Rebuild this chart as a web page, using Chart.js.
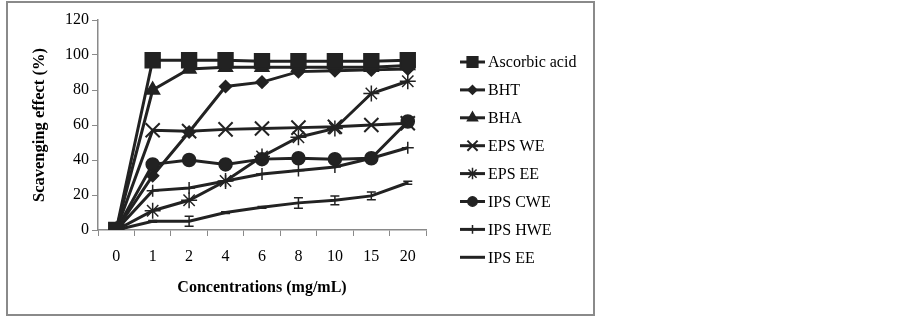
<!DOCTYPE html>
<html>
<head>
<meta charset="utf-8">
<script src="https://cdn.jsdelivr.net/npm/chart.js@4"></script>
<style>
  html, body { margin: 0; padding: 0; background: #fff; }
  #wrap { width: 902px; height: 322px; position: relative; }
</style>
</head>
<body>
<div id="wrap"><canvas id="chart"></canvas></div>
<script>
const concentrations = ['0', '1', '2', '4', '6', '8', '10', '15', '20'];
const yTicks = [0, 20, 40, 60, 80, 100, 120];

const ascorbicAcid = [0, 97, 97, 97, 96.5, 96.5, 96.5, 96.5, 97];
const bht = [0, 31, 56, 82, 84.5, 90.5, 91, 91.5, 92];
const bha = [0, 80, 92, 93, 93, 93, 93, 93, 94];
const epsWe = [0, 57, 56.5, 57.5, 58, 58.5, 59, 60, 61];
const epsEe = [0, 11, 17, 28, 42, 53, 58, 78, 85];
const ipsCwe = [0, 37.5, 40, 37.5, 40.5, 41, 40.5, 41, 62];
const ipsHwe = [0, 22.5, 24, 28, 32, 34, 36, 41, 47];
const ipsEe = [0, 5, 5, 10, 13, 15.5, 17, 19.5, 27];
const ipsEeErr = [0, 0.5, 2.8, 0.5, 0.5, 3, 2.5, 2.2, 0.8];

const INK = '#222222';

function series(label, data, style, radius, extra) {
  return Object.assign({
    label: label,
    data: data,
    borderColor: INK,
    backgroundColor: INK,
    borderWidth: 3,
    pointStyle: style,
    pointRadius: radius,
    pointHoverRadius: radius,
    pointBackgroundColor: INK,
    pointBorderColor: INK,
    pointBorderWidth: 1.5,
    tension: 0,
    fill: false
  }, extra || {});
}

const datasets = [
  series('Ascorbic acid', ascorbicAcid, 'rect', 10.5),
  series('BHT', bht, 'rectRot', 6),
  series('BHA', bha, 'triangle', 8),
  series('EPS WE', epsWe, 'crossRot', 10, { pointBorderWidth: 2 }),
  series('EPS EE', epsEe, 'star', 8, { pointBorderWidth: 1.5 }),
  series('IPS CWE', ipsCwe, 'circle', 6.5),
  series('IPS HWE', ipsHwe, 'cross', 6, { pointBorderWidth: 1.5 }),
  series('IPS EE', ipsEe, 'circle', 0, { errors: ipsEeErr })
];

const serif = "'Liberation Serif', 'Times New Roman', serif";

const frame = {
  id: 'frame',
  beforeDraw(chart) {
    const ctx = chart.ctx;
    ctx.save();
    ctx.fillStyle = '#ffffff';
    ctx.fillRect(0, 0, chart.width, chart.height);
    ctx.strokeStyle = '#8a8a8a';
    ctx.lineWidth = 2;
    ctx.strokeRect(7, 2, 587, 313);
    ctx.restore();
  }
};

const errorBars = {
  id: 'errorBars',
  afterDatasetsDraw(chart) {
    const ctx = chart.ctx;
    const x = chart.scales.x, y = chart.scales.y;
    ctx.save();
    ctx.strokeStyle = INK;
    ctx.lineWidth = 1.5;
    chart.data.datasets.forEach(ds => {
      if (!ds.errors) return;
      ds.data.forEach((v, i) => {
        const e = ds.errors[i];
        if (!e) return;
        const px = x.getPixelForValue(i);
        const top = y.getPixelForValue(v + e);
        const bot = y.getPixelForValue(v - e);
        ctx.beginPath();
        ctx.moveTo(px, top); ctx.lineTo(px, bot);
        ctx.moveTo(px - 4.5, top); ctx.lineTo(px + 4.5, top);
        ctx.moveTo(px - 4.5, bot); ctx.lineTo(px + 4.5, bot);
        ctx.stroke();
      });
    });
    ctx.restore();
  }
};

const sideLegend = {
  id: 'sideLegend',
  afterDraw(chart) {
    const ctx = chart.ctx;
    ctx.save();
    ctx.font = '16px ' + serif;
    ctx.textBaseline = 'middle';
    ctx.fillStyle = '#000';
    chart.data.datasets.forEach((ds, i) => {
      const yy = 62 + i * 27.9;
      ctx.strokeStyle = INK;
      ctx.lineWidth = 3;
      ctx.beginPath();
      ctx.moveTo(460, yy);
      ctx.lineTo(485, yy);
      ctx.stroke();
      if (ds.pointRadius > 0) {
        ctx.fillStyle = INK;
        ctx.strokeStyle = INK;
        ctx.lineWidth = ds.pointBorderWidth;
        Chart.helpers.drawPoint(ctx, {
          pointStyle: ds.pointStyle,
          radius: ds.pointRadius * 0.72,
          rotation: 0,
          borderWidth: ds.pointBorderWidth
        }, 472.5, yy);
      }
      ctx.fillStyle = '#000';
      ctx.fillText(ds.label, 488, yy + 1);
    });
    ctx.restore();
  }
};

new Chart(document.getElementById('chart'), {
  type: 'line',
  data: { labels: concentrations, datasets: datasets },
  options: {
    responsive: true,
    maintainAspectRatio: false,
    animation: false,
    events: [],
    layout: { padding: { left: 0, right: 476, top: 20, bottom: 0 } },
    plugins: {
      legend: { display: false },
      tooltip: { enabled: false }
    },
    scales: {
      x: {
        offset: true,
        afterFit(scale) { scale.height = 92; },
        grid: {
          offset: true,
          drawOnChartArea: false,
          drawTicks: true,
          tickLength: 6,
          color: '#8a8a8a'
        },
        border: { color: '#8a8a8a', width: 1.5 },
        ticks: {
          color: '#000',
          padding: 11,
          maxRotation: 0,
          font: { family: serif, size: 16 }
        },
        title: {
          display: true,
          text: 'Concentrations (mg/mL)',
          color: '#000',
          font: { family: serif, size: 16, weight: 'bold' },
          padding: { top: 0, bottom: 25 }
        }
      },
      y: {
        min: 0,
        max: 120,
        afterFit(scale) { scale.width = 98; },
        afterBuildTicks(scale) { scale.ticks = yTicks.map(v => ({ value: v })); },
        grid: {
          drawOnChartArea: false,
          drawTicks: true,
          tickLength: 6,
          color: '#8a8a8a'
        },
        border: { color: '#8a8a8a', width: 1.5 },
        ticks: {
          color: '#000',
          padding: 3,
          font: { family: serif, size: 16 }
        },
        title: {
          display: true,
          text: 'Scavenging effect (%)',
          color: '#000',
          font: { family: serif, size: 16.5, weight: 'bold' },
          padding: { top: 30, bottom: 0 }
        }
      }
    }
  },
  plugins: [frame, errorBars, sideLegend]
});
</script>
</body>
</html>
